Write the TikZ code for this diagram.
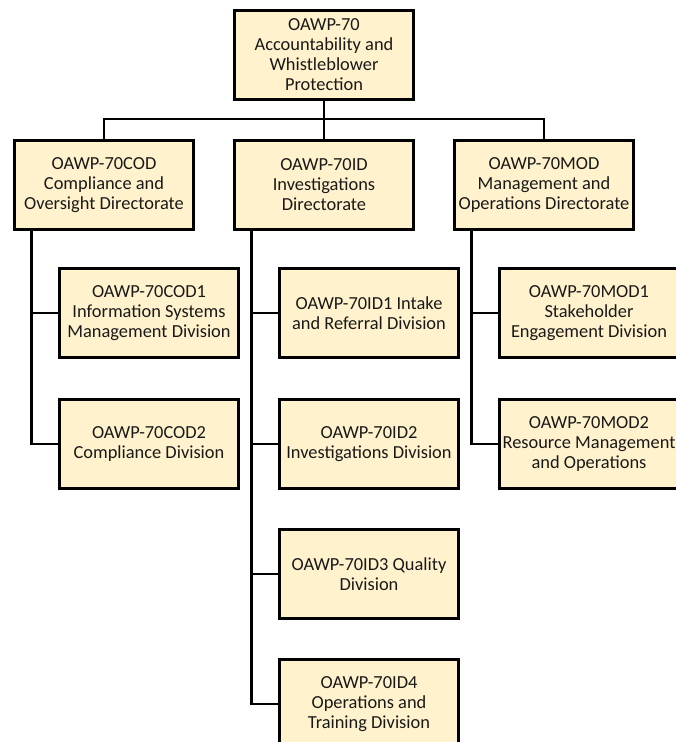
\documentclass[tikz,border=0pt]{standalone}
\usepackage{fontspec}
\setmainfont{Carlito}
\usepackage{tikz}
\usetikzlibrary{positioning}

\definecolor{boxfill}{HTML}{FFF2CC}

\begin{document}
\begin{tikzpicture}[
	unit/.style={rectangle, draw=black, line width=2.6pt, fill=boxfill, minimum width=179.4pt, minimum height=89.4pt, inner sep=1pt, align=center, font=\fontsize{18.4pt}{20pt}\selectfont, text=black!90},
	link/.style={line width=2.6pt}
]
	\useasboundingbox (0,0) rectangle (676pt,-742pt);

	% top of the chart
	\node[unit] (top) at (324pt,-55pt) {OAWP-70\\Accountability and\\Whistleblower\\Protection};

	% directorates
	\node[unit, below=38pt of top] (ID) {OAWP-70ID\\Investigations\\Directorate};
	\node[unit, left=38pt of ID] (COD) {OAWP-70COD\\Compliance and\\Oversight Directorate};
	\node[unit, right=38pt of ID] (MOD) {OAWP-70MOD\\Management and\\Operations Directorate};

	% divisions
	\node[unit, below=36pt of COD.south west, anchor=north west, xshift=45pt] (COD1) {OAWP-70COD1\\Information Systems\\Management Division};
	\node[unit, below=39pt of COD1] (COD2) {OAWP-70COD2\\Compliance Division};

	\node[unit, below=36pt of ID.south west, anchor=north west, xshift=45pt] (ID1) {OAWP-70ID1 Intake\\and Referral Division};
	\node[unit, below=39pt of ID1] (ID2) {OAWP-70ID2\\Investigations Division};
	\node[unit, below=38pt of ID2] (ID3) {OAWP-70ID3 Quality\\Division};
	\node[unit, below=38pt of ID3] (ID4) {OAWP-70ID4\\Operations and\\Training Division};

	\node[unit, below=36pt of MOD.south west, anchor=north west, xshift=45pt] (MOD1) {OAWP-70MOD1\\Stakeholder\\Engagement Division};
	\node[unit, below=39pt of MOD1] (MOD2) {OAWP-70MOD2\\Resource Management\\and Operations};

	% bus under the top box
	\draw[link] (top) -- (ID);
	\draw[link] (top.south) -- ++(0,-18pt) -| (COD.north);
	\draw[link] (top.south) -- ++(0,-18pt) -| (MOD.north);

	% trunks
	\path (COD.south west) ++(18.5pt,0) coordinate (CODt);
	\path (ID.south west) ++(18.5pt,0) coordinate (IDt);
	\path (MOD.south west) ++(18.5pt,0) coordinate (MODt);

	\draw[link] (CODt) |- (COD1.west);
	\draw[link] (CODt) |- (COD2.west);

	\draw[link] (IDt) |- (ID1.west);
	\draw[link] (IDt) |- (ID2.west);
	\draw[link] (IDt) |- (ID3.west);
	\draw[link] (IDt) |- (ID4.west);

	\draw[link] (MODt) |- (MOD1.west);
	\draw[link] (MODt) |- (MOD2.west);

\end{tikzpicture}
\end{document}
